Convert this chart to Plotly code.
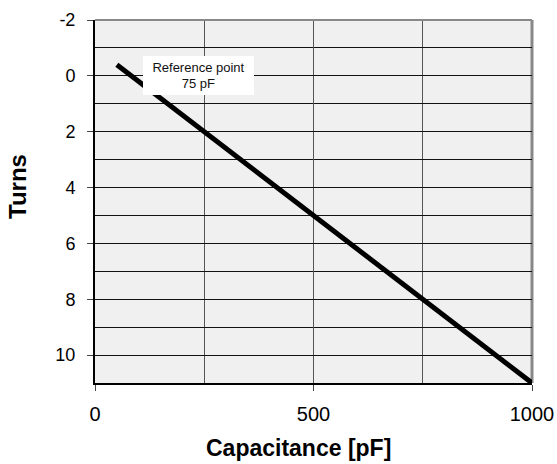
import plotly.graph_objects as go

# Data
capacitance_pf = [50, 1000]
turns = [-0.4, 11]

x_tick_vals = [0, 500, 1000]
x_tick_text = ["0", "500", "1000"]
y_tick_vals = [-2, 0, 2, 4, 6, 8, 10]
y_tick_text = ["-2", "0", "2", "4", "6", "8", "10"]

x_title = "Capacitance [pF]"
y_title = "Turns"
ref_label = "Reference point<br>75 pF"
ref_pos = (237, 0)

FONT = "Liberation Sans, Arial, Helvetica, sans-serif"

fig = go.Figure()
fig.add_trace(go.Scatter(
    x=capacitance_pf, y=turns, mode="lines",
    line=dict(color="black", width=5),
    cliponaxis=False, showlegend=False, hoverinfo="skip",
))

fig.update_layout(
    width=557, height=464,
    margin=dict(l=95, r=25, t=20, b=81),
    paper_bgcolor="white",
    plot_bgcolor="#f0f0f0",
    font=dict(family=FONT, color="black"),
    showlegend=False,
)

fig.update_xaxes(
    range=[0, 1000], automargin=False,
    tickvals=x_tick_vals, ticktext=x_tick_text,
    tickfont=dict(size=20, family=FONT, color="black"),
    ticks="outside", ticklen=6, tickwidth=1, tickcolor="#444",
    showgrid=True, gridcolor="#555", gridwidth=1,
    minor=dict(dtick=250, tick0=0, showgrid=True, gridcolor="#555", gridwidth=1, ticks=""),
    showline=True, linecolor="black", linewidth=2,
    zeroline=False, ticklabelstandoff=6,
)
fig.update_yaxes(
    range=[11, -2], automargin=False,
    tickvals=y_tick_vals, ticktext=y_tick_text,
    tickfont=dict(size=18, family=FONT, color="black"),
    ticks="outside", ticklen=6, tickwidth=1, tickcolor="#444",
    showgrid=True, gridcolor="#111", gridwidth=1,
    minor=dict(dtick=1, tick0=0, showgrid=True, gridcolor="#111", gridwidth=1, ticks=""),
    showline=True, linecolor="black", linewidth=2,
    zeroline=False, ticklabelstandoff=8,
)

# top and right border in gray
fig.add_shape(type="line", xref="paper", yref="paper", x0=0, x1=1, y0=1, y1=1,
              line=dict(color="#888", width=2), layer="above")
fig.add_shape(type="line", xref="paper", yref="paper", x0=1, x1=1, y0=0, y1=1,
              line=dict(color="#888", width=3), layer="below")

fig.add_annotation(
    x=ref_pos[0], y=ref_pos[1], xref="x", yref="y",
    text=ref_label, showarrow=False,
    font=dict(size=13, family=FONT, color="#111"),
    bgcolor="white", borderpad=0, borderwidth=0, width=111, height=39,
    align="center", valign="middle",
    xanchor="center", yanchor="middle",
)

fig.add_annotation(
    x=(298 - 95) / 437, y=-65 / 363, xref="paper", yref="paper",
    text="<b>" + x_title + "</b>", showarrow=False,
    font=dict(size=23, family=FONT, color="black"),
    xanchor="center", yanchor="middle",
)
fig.add_annotation(
    x=(17 - 95) / 437, y=(383 - 187) / 363, xref="paper", yref="paper",
    text="<b>" + y_title + "</b>", showarrow=False, textangle=-90,
    font=dict(size=24, family=FONT, color="black"),
    xanchor="center", yanchor="middle",
)

fig.write_html(
    "out.html",
    config={"displayModeBar": False},
    post_script="document.body.style.margin='0px';document.body.style.overflow='hidden';",
)
